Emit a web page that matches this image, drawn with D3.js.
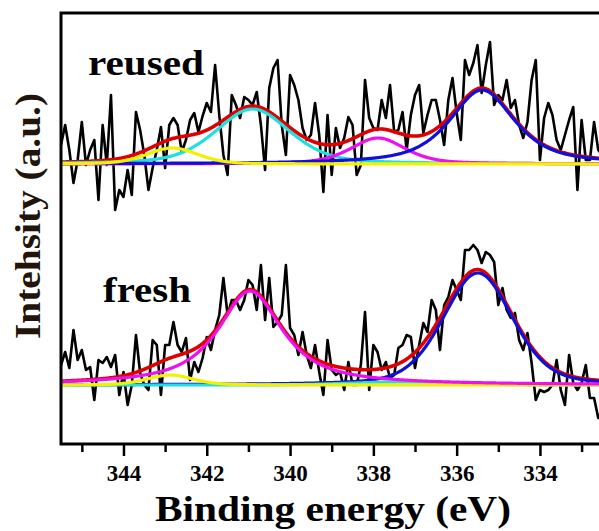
<!DOCTYPE html>
<html>
<head>
<meta charset="utf-8">
<script src="https://cdn.jsdelivr.net/npm/d3@7/dist/d3.min.js"></script>
<style>
  body { margin: 0; background: #fff; }
  svg { display: block; }
  text { font-family: "Liberation Serif", "Times New Roman", serif; font-weight: bold; }
</style>
</head>
<body>
<div id="chart"></div>
<script>
// scan grid (eV): first point and step of the energy scan
var scanStart = 345.5;
var scanStep = 0.1;

// raw spectra, intensity (a.u.), one value per scan step
var reusedCounts = [301,321,296,263,286,324,281,296,306,246,321,281,351,236,256,249,276,251,334,316,291,256,278,296,319,278,321,328,321,294,306,326,333,314,330,343,334,381,331,291,271,351,341,328,
  349,346,341,354,321,276,358,378,386,321,291,371,361,346,318,306,311,343,311,254,331,271,318,298,308,329,321,271,281,366,328,318,316,346,328,361,314,316,334,296,331,
  351,361,313,331,346,346,326,301,346,368,333,306,386,371,383,401,353,381,404,341,351,346,366,338,346,321,308,324,366,386,286,328,343,331,306,296,311,326,339,256,326,286,286,324,296,291,306,296];

var freshCounts = [81,94,78,116,86,96,76,79,46,86,83,89,79,91,51,74,41,61,111,73,61,56,106,101,51,101,101,124,101,94,108,66,84,74,88,109,96,116,131,168,131,146,146,136,
  146,166,161,136,181,126,168,119,124,131,181,118,111,91,114,91,78,101,74,51,106,76,71,74,56,84,61,61,81,134,56,101,94,76,84,68,71,98,101,111,109,
  78,101,123,114,146,136,96,141,149,166,156,146,196,196,201,196,183,194,191,184,141,158,136,128,133,106,96,113,83,46,56,54,56,61,86,56,41,91,63,56,63,81,48,48,28,36,26,31];

// fitted peaks (center eV, height a.u., FWHM eV, Lorentzian share)
var peakColors = ["#f2f200", "#1fe0e0", "#ee10ee", "#1010d8"];
var reusedBase = 282;
var reusedCenters = [342.83, 340.9, 337.89, 335.39];
var reusedHeights = [16, 55, 26, 74];
var reusedFwhm = [1.45, 2.1, 1.55, 1.85];
var reusedMix = [0.3, 0.4, 0.5, 0.7];

var freshBase = 61;
var freshCenters = [342.88, 337.3, 340.96, 335.49];
var freshHeights = [10, 3, 94, 112];
var freshFwhm = [1.3, 3.0, 1.85, 1.97];
var freshMix = [0.3, 0.0, 0.9, 0.3];

var majorTicks = [344, 342, 340, 338, 336, 334];
var minorTicks = [345, 343, 341, 339, 337, 335, 333];

function init() {
    var w = 599, h = 531;
    var left = 61, top = 13, right = 612, bottom = 444;

    var xScale = d3.scaleLinear().domain([345.5, 332.27]).range([left, right]);
    var yScale = d3.scaleLinear().domain([0, 433]).range([446, 13]);

    var svg = d3.select("#chart").append("svg")
        .attr("width", w).attr("height", h);

    svg.append("clipPath").attr("id", "plotClip")
        .append("rect")
        .attr("x", left).attr("y", top)
        .attr("width", right - left).attr("height", bottom - top);

    var plot = svg.append("g").attr("clip-path", "url(#plotClip)");

    var line = d3.line()
        .x(function (d) { return xScale(d[0]); })
        .y(function (d) { return yScale(d[1]); });

    function spectrum(counts) {
        return counts.map(function (v, i) { return [scanStart - i * scanStep, v]; });
    }

    // pseudo-Voigt shape for each fitted component
    function peak(e, c, hgt, fw, m) {
        var t = (e - c) / fw;
        return hgt * ((1 - m) * Math.exp(-4 * Math.LN2 * t * t) + m / (1 + 4 * t * t));
    }

    var grid = d3.range(345.5, 332.2, -0.02);

    function drawFit(base, centers, heights, fwhm, mix, order) {
        var envelope = grid.map(function (e) {
            var s = base;
            for (var k = 0; k < centers.length; k++) s += peak(e, centers[k], heights[k], fwhm[k], mix[k]);
            return [e, s];
        });
        plot.append("path").attr("d", line(envelope))
            .attr("fill", "none").attr("stroke", "#e00000").attr("stroke-width", 3.6);
        order.forEach(function (k) {
            var comp = grid.map(function (e) {
                return [e, base + peak(e, centers[k], heights[k], fwhm[k], mix[k])];
            });
            plot.append("path").attr("d", line(comp))
                .attr("fill", "none").attr("stroke", peakColors[k]).attr("stroke-width", 3.2);
        });
    }

    // raw data
    [reusedCounts, freshCounts].forEach(function (c) {
        plot.append("path").attr("d", line(spectrum(c)))
            .attr("fill", "none").attr("stroke", "#000")
            .attr("stroke-width", 2.6).attr("stroke-linejoin", "round");
    });

    drawFit(reusedBase, reusedCenters, reusedHeights, reusedFwhm, reusedMix, [1, 2, 3, 0]);
    drawFit(freshBase, freshCenters, freshHeights, freshFwhm, freshMix, [3, 1, 0, 2]);

    // frame
    svg.append("rect")
        .attr("x", left).attr("y", top)
        .attr("width", right - left).attr("height", bottom - top)
        .attr("fill", "none").attr("stroke", "#000").attr("stroke-width", 3);

    // x axis
    var xAxis = d3.axisBottom(xScale).tickValues(majorTicks).tickSize(12)
        .tickFormat(d3.format("d"));
    var gx = svg.append("g").attr("transform", "translate(0," + bottom + ")").call(xAxis);
    gx.select(".domain").remove();
    gx.selectAll(".tick line").attr("stroke", "#000").attr("stroke-width", 2.5);
    gx.selectAll(".tick text")
        .attr("y", 37).attr("dy", 0)
        .attr("fill", "#000")
        .style("font-size", "23px");

    var minorAxis = d3.axisBottom(xScale).tickValues(minorTicks).tickSize(8).tickFormat("");
    var gm = svg.append("g").attr("transform", "translate(0," + bottom + ")").call(minorAxis);
    gm.select(".domain").remove();
    gm.selectAll(".tick line").attr("stroke", "#000").attr("stroke-width", 2.5);

    svg.append("text")
        .attr("x", 333).attr("y", 521)
        .attr("text-anchor", "middle")
        .attr("textLength", 356).attr("lengthAdjust", "spacingAndGlyphs")
        .style("font-size", "36px").attr("fill", "#000")
        .text("Binding energy (eV)");

    svg.append("text")
        .attr("transform", "translate(40,216) rotate(-90)")
        .attr("text-anchor", "middle")
        .attr("textLength", 246).attr("lengthAdjust", "spacingAndGlyphs")
        .style("font-size", "36px").attr("fill", "#22140a")
        .text("Intehsity (a.u.)");

    svg.append("text")
        .attr("x", 88).attr("y", 75)
        .attr("textLength", 116).attr("lengthAdjust", "spacingAndGlyphs")
        .style("font-size", "35px").attr("fill", "#000")
        .text("reused");

    svg.append("text")
        .attr("x", 103).attr("y", 302)
        .attr("textLength", 88).attr("lengthAdjust", "spacingAndGlyphs")
        .style("font-size", "35px").attr("fill", "#000")
        .text("fresh");
}

window.onload = init;
</script>
</body>
</html>
